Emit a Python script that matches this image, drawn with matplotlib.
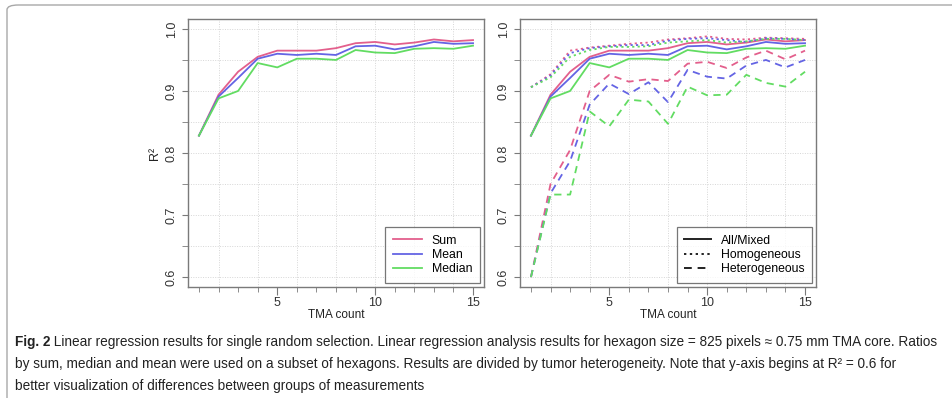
import matplotlib

matplotlib.use("Agg")
import matplotlib.pyplot as plt
from matplotlib.patches import FancyBboxPatch
from matplotlib.ticker import FixedLocator

plt.rcParams["font.family"] = ["Liberation Sans", "DejaVu Sans"]

tma = list(range(1, 16))

# all / mixed (same curves in both panels)
sum_all = [0.828, 0.894, 0.931, 0.955, 0.965, 0.965, 0.965, 0.969, 0.977, 0.979, 0.975, 0.978, 0.983, 0.980, 0.982]
mean_all = [0.828, 0.891, 0.921, 0.952, 0.960, 0.958, 0.960, 0.958, 0.972, 0.973, 0.967, 0.972, 0.979, 0.976, 0.977]
median_all = [0.828, 0.888, 0.900, 0.945, 0.938, 0.952, 0.952, 0.950, 0.966, 0.962, 0.961, 0.968, 0.969, 0.968, 0.973]

# homogeneous
sum_hom = [0.906, 0.927, 0.965, 0.970, 0.973, 0.976, 0.978, 0.983, 0.985, 0.988, 0.984, 0.983, 0.986, 0.985, 0.984]
mean_hom = [0.906, 0.925, 0.961, 0.969, 0.972, 0.974, 0.974, 0.981, 0.984, 0.985, 0.982, 0.979, 0.985, 0.984, 0.982]
median_hom = [0.906, 0.922, 0.955, 0.966, 0.971, 0.971, 0.972, 0.978, 0.980, 0.982, 0.978, 0.980, 0.984, 0.984, 0.982]

# heterogeneous
sum_het = [0.600, 0.750, 0.805, 0.900, 0.926, 0.915, 0.919, 0.916, 0.944, 0.947, 0.937, 0.954, 0.965, 0.951, 0.965]
mean_het = [0.600, 0.735, 0.787, 0.878, 0.912, 0.895, 0.914, 0.882, 0.934, 0.923, 0.920, 0.941, 0.950, 0.938, 0.950]
median_het = [0.600, 0.733, 0.733, 0.867, 0.843, 0.886, 0.883, 0.847, 0.907, 0.893, 0.894, 0.926, 0.913, 0.907, 0.931]

caption_head = "Fig. 2"
caption_lines = [
    "Linear regression results for single random selection. Linear regression analysis results for hexagon size = 825 pixels ≈ 0.75 mm TMA core. Ratios",
    "by sum, median and mean were used on a subset of hexagons. Results are divided by tumor heterogeneity. Note that y-axis begins at R² = 0.6 for",
    "better visualization of differences between groups of measurements",
]

pink = "#E35F8C"
blue = "#6464E4"
green = "#62DC62"
frame = "#7a7a7a"
txt = "#333333"
dotted = (0, (1.2, 1.8))
dashed = (0, (4, 3))
lw = 1.3


def style_axes(ax):
    ax.set_xlim(0.44, 15.56)
    ax.set_ylim(0.584, 1.016)
    ax.xaxis.set_major_locator(FixedLocator([5, 10, 15]))
    ax.xaxis.set_minor_locator(FixedLocator([t for t in tma if t % 5]))
    ax.yaxis.set_minor_locator(FixedLocator([0.65, 0.75, 0.85, 0.95]))
    for y in [0.6, 0.65, 0.7, 0.75, 0.8, 0.85, 0.9, 0.95, 1.0]:
        ax.axhline(y, color="#d6d6d6", lw=0.7, ls=(0, (1, 1.5)), zorder=0)
    for x in range(2, 15, 2):
        ax.axvline(x, color="#d6d6d6", lw=0.7, ls=(0, (1, 1.5)), zorder=0)
    for s in ax.spines.values():
        s.set_color(frame)
        s.set_linewidth(1.0)
    ax.tick_params(axis="x", which="major", length=6, color=frame, labelsize=9, labelcolor=txt, pad=1.5)
    ax.tick_params(axis="x", which="minor", length=3.5, color=frame)
    ax.tick_params(axis="y", which="both", length=4.5, color=frame, labelsize=9, labelcolor=txt, pad=3)
    ax.set_yticks([0.6, 0.7, 0.8, 0.9, 1.0])
    ax.set_yticklabels(["0.6", "0.7", "0.8", "0.9", "1.0"], rotation=90, va="center")
    ax.set_xlabel("TMA count", fontsize=8.5, color="#222222", labelpad=0)


fig = plt.figure(figsize=(9.52, 3.98), dpi=100)
ax1 = fig.add_axes([188 / 952, 1 - 287 / 398, 296 / 952, 268 / 398])
ax2 = fig.add_axes([520 / 952, 1 - 287 / 398, 296 / 952, 268 / 398])

ax1.plot(tma, sum_all, color=pink, lw=lw, label="Sum")
ax1.plot(tma, mean_all, color=blue, lw=lw, label="Mean")
ax1.plot(tma, median_all, color=green, lw=lw, label="Median")
style_axes(ax1)
ax1.set_ylabel("R²", fontsize=9, color="#222222", labelpad=3)
leg1 = ax1.legend(loc="lower right", fontsize=8.8, frameon=True, fancybox=False,
                  edgecolor="#555555", handlelength=2.4, borderpad=0.6, labelspacing=0.2,
                  borderaxespad=0.35)
leg1.get_frame().set_linewidth(0.9)

for vals, c in [(sum_all, pink), (mean_all, blue), (median_all, green)]:
    ax2.plot(tma, vals, color=c, lw=lw)
for vals, c in [(sum_hom, pink), (mean_hom, blue), (median_hom, green)]:
    ax2.plot(tma, vals, color=c, lw=lw, ls=dotted)
for vals, c in [(sum_het, pink), (mean_het, blue), (median_het, green)]:
    ax2.plot(tma, vals, color=c, lw=lw, ls=dashed)
style_axes(ax2)
h = [plt.Line2D([], [], color="#222222", lw=1.4, ls=s) for s in ["-", dotted, dashed]]
leg2 = ax2.legend(h, ["All/Mixed", "Homogeneous", "Heterogeneous"], loc="lower right", fontsize=8.8,
                  frameon=True, fancybox=False, edgecolor="#555555", handlelength=2.2,
                  borderpad=0.6, labelspacing=0.2, borderaxespad=0.35)
leg2.get_frame().set_linewidth(0.9)

# outer border of the figure panel
fig.patches.append(FancyBboxPatch((7 / 952, -0.2), 1.2, 1 - 5 / 398 + 0.2,
                                  boxstyle="round,pad=0,rounding_size=0.012",
                                  transform=fig.transFigure, fill=False,
                                  edgecolor="#a8a8a8", lw=1.0))

# caption: fit the first line into the width it takes in the figure
x0 = 15 / 952
cap_size = 10.0
head = fig.text(x0, 1 - 342 / 398, caption_head, fontsize=cap_size, fontweight="bold",
                color="#222222", va="center")
first = fig.text(0, 1 - 342 / 398, " " + caption_lines[0], fontsize=cap_size, color="#222222", va="center")
fig.canvas.draw()
r = fig.canvas.get_renderer()
total = head.get_window_extent(r).width + first.get_window_extent(r).width
cap_size = cap_size * (940 - 15) / total
head.set_fontsize(cap_size)
first.set_fontsize(cap_size)
fig.canvas.draw()
bb = head.get_window_extent(r).transformed(fig.transFigure.inverted())
first.set_position((bb.x1, 1 - 342 / 398))
fig.text(x0, 1 - 364 / 398, caption_lines[1], fontsize=cap_size, color="#222222", va="center")
fig.text(x0, 1 - 386 / 398, caption_lines[2], fontsize=cap_size, color="#222222", va="center")

fig.savefig("out.png", dpi=100)
